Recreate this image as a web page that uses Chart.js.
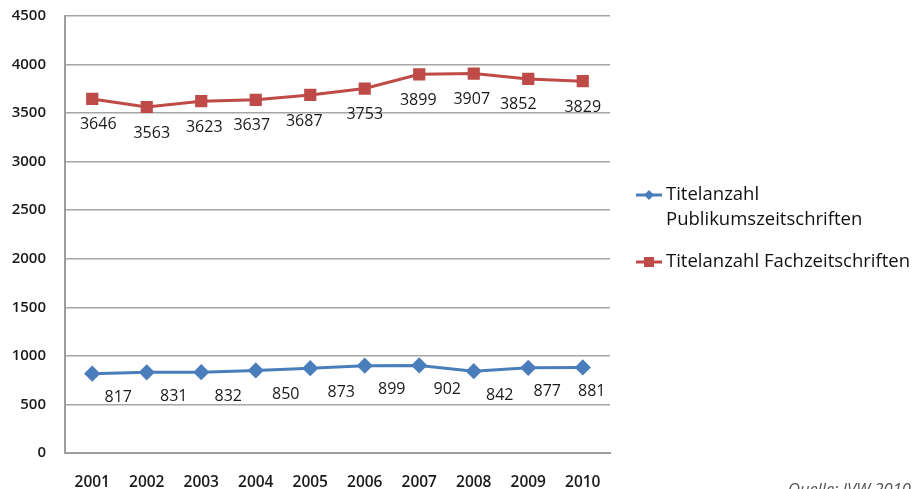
<!DOCTYPE html>
<html>
<head>
<meta charset="utf-8">
<script src="https://cdn.jsdelivr.net/npm/chart.js@4/dist/chart.umd.min.js"></script>
<style>
  html, body { margin: 0; padding: 0; background: #fff; }
  #wrap { width: 921px; height: 489px; position: relative; }
</style>
</head>
<body>
<div id="wrap"><canvas id="c" width="921" height="489"></canvas></div>
<script>
// Jahre und Titelanzahlen (IVW)
const years = ['2001', '2002', '2003', '2004', '2005', '2006', '2007', '2008', '2009', '2010'];
const publikum = [817, 831, 832, 850, 873, 899, 902, 842, 877, 881];
const fach = [3646, 3563, 3623, 3637, 3687, 3753, 3899, 3907, 3852, 3829];
const yTicks = [0, 500, 1000, 1500, 2000, 2500, 3000, 3500, 4000, 4500];
const seriesNames = [['Titelanzahl', 'Publikumszeitschriften'], ['Titelanzahl Fachzeitschriften']];
const sourceNote = 'Quelle: IVW 2010';

const BLUE = '#4a7ebb';
const RED = '#be4b48';
const FONT = '"Open Sans", Lato, sans-serif';

// Wertebeschriftungen unter den Punkten, mit leichtem Versatz je Punkt
const valueLabels = {
  id: 'valueLabels',
  afterDatasetsDraw(chart, args, opts) {
    const ctx = chart.ctx;
    ctx.save();
    ctx.font = '16px ' + FONT;
    ctx.fillStyle = '#1a1a1a';
    ctx.textAlign = 'center';
    ctx.textBaseline = 'middle';
    chart.data.datasets.forEach((ds, i) => {
      const meta = chart.getDatasetMeta(i);
      const nudge = opts.nudge[i];
      meta.data.forEach((pt, j) => {
        ctx.fillText(String(ds.data[j]), pt.x + nudge.dx[j], pt.y + nudge.dy);
      });
    });
    ctx.restore();
  }
};

// Legende rechts neben der Zeichenfläche und Quellenangabe
const sideLegend = {
  id: 'sideLegend',
  afterDraw(chart) {
    const ctx = chart.ctx;
    const area = chart.chartArea;
    ctx.save();
    ctx.font = '18.5px ' + FONT;
    ctx.fillStyle = '#111';
    ctx.textBaseline = 'middle';
    const x0 = area.right + 26;
    const rows = [195, 262];
    chart.data.datasets.forEach((ds, i) => {
      const y = rows[i];
      ctx.strokeStyle = ds.borderColor;
      ctx.lineWidth = 3;
      ctx.beginPath();
      ctx.moveTo(x0, y);
      ctx.lineTo(x0 + 26, y);
      ctx.stroke();
      ctx.fillStyle = ds.backgroundColor;
      const cx = x0 + 13;
      if (ds.pointStyle === 'rectRot') {
        ctx.beginPath();
        ctx.moveTo(cx, y - 5); ctx.lineTo(cx + 5, y); ctx.lineTo(cx, y + 5); ctx.lineTo(cx - 5, y);
        ctx.closePath(); ctx.fill();
      } else {
        ctx.fillRect(cx - 5, y - 5, 10, 10);
      }
      ctx.fillStyle = '#111';
      seriesNames[i].forEach((line, k) => ctx.fillText(line, x0 + 30, y + k * 25));
    });
    ctx.font = 'italic 16.5px ' + FONT;
    ctx.fillStyle = '#555';
    ctx.textBaseline = 'alphabetic';
    ctx.fillText(sourceNote, 788, 495);
    ctx.restore();
  }
};

new Chart(document.getElementById('c'), {
  type: 'line',
  data: {
    labels: years,
    datasets: [
      {
        label: seriesNames[0].join(' '),
        data: publikum,
        borderColor: BLUE,
        backgroundColor: BLUE,
        borderWidth: 3,
        pointStyle: 'rectRot',
        pointRadius: 6,
        pointHoverRadius: 6,
        tension: 0
      },
      {
        label: seriesNames[1].join(' '),
        data: fach,
        borderColor: RED,
        backgroundColor: RED,
        borderWidth: 3,
        pointStyle: 'rect',
        pointRadius: 6.5,
        pointHoverRadius: 6.5,
        tension: 0
      }
    ]
  },
  options: {
    responsive: false,
    animation: false,
    layout: { autoPadding: false, padding: { top: 16, right: 311, left: 0, bottom: 0 } },
    plugins: {
      legend: { display: false },
      tooltip: { enabled: false },
      valueLabels: {
        nudge: [
          { dx: [26, 27, 27, 30, 31, 27, 28, 26, 19, 9], dy: 24 },
          { dx: [6, 5, 3, -4, -6, 0, -1, -2, -10, 0], dy: 26 }
        ]
      }
    },
    scales: {
      x: {
        offset: true,
        grid: { display: false, drawTicks: false },
        border: { display: true, color: '#9d9d9d', width: 2 },
        ticks: {
          color: '#1a1a1a',
          font: { family: FONT, size: 15.5, weight: '600' },
          padding: 20,
          maxRotation: 0
        },
        afterFit(scale) {
          scale.height = 36;
          scale.paddingLeft = 0;
          scale.paddingRight = 0;
        }
      },
      y: {
        min: 0,
        max: 4500,
        afterBuildTicks(scale) { scale.ticks = yTicks.map(v => ({ value: v })); },
        grid: { color: '#a6a6a6', lineWidth: 1.5, drawTicks: false },
        border: { display: true, color: '#9d9d9d', width: 2 },
        ticks: {
          color: '#1a1a1a',
          font: { family: FONT, size: 15, weight: '600' },
          padding: 19,
          callback: v => String(v)
        },
        afterFit(scale) {
          scale.width = 65;
          scale.paddingTop = 0;
          scale.paddingBottom = 0;
        }
      }
    }
  },
  plugins: [valueLabels, sideLegend]
});
</script>
</body>
</html>
